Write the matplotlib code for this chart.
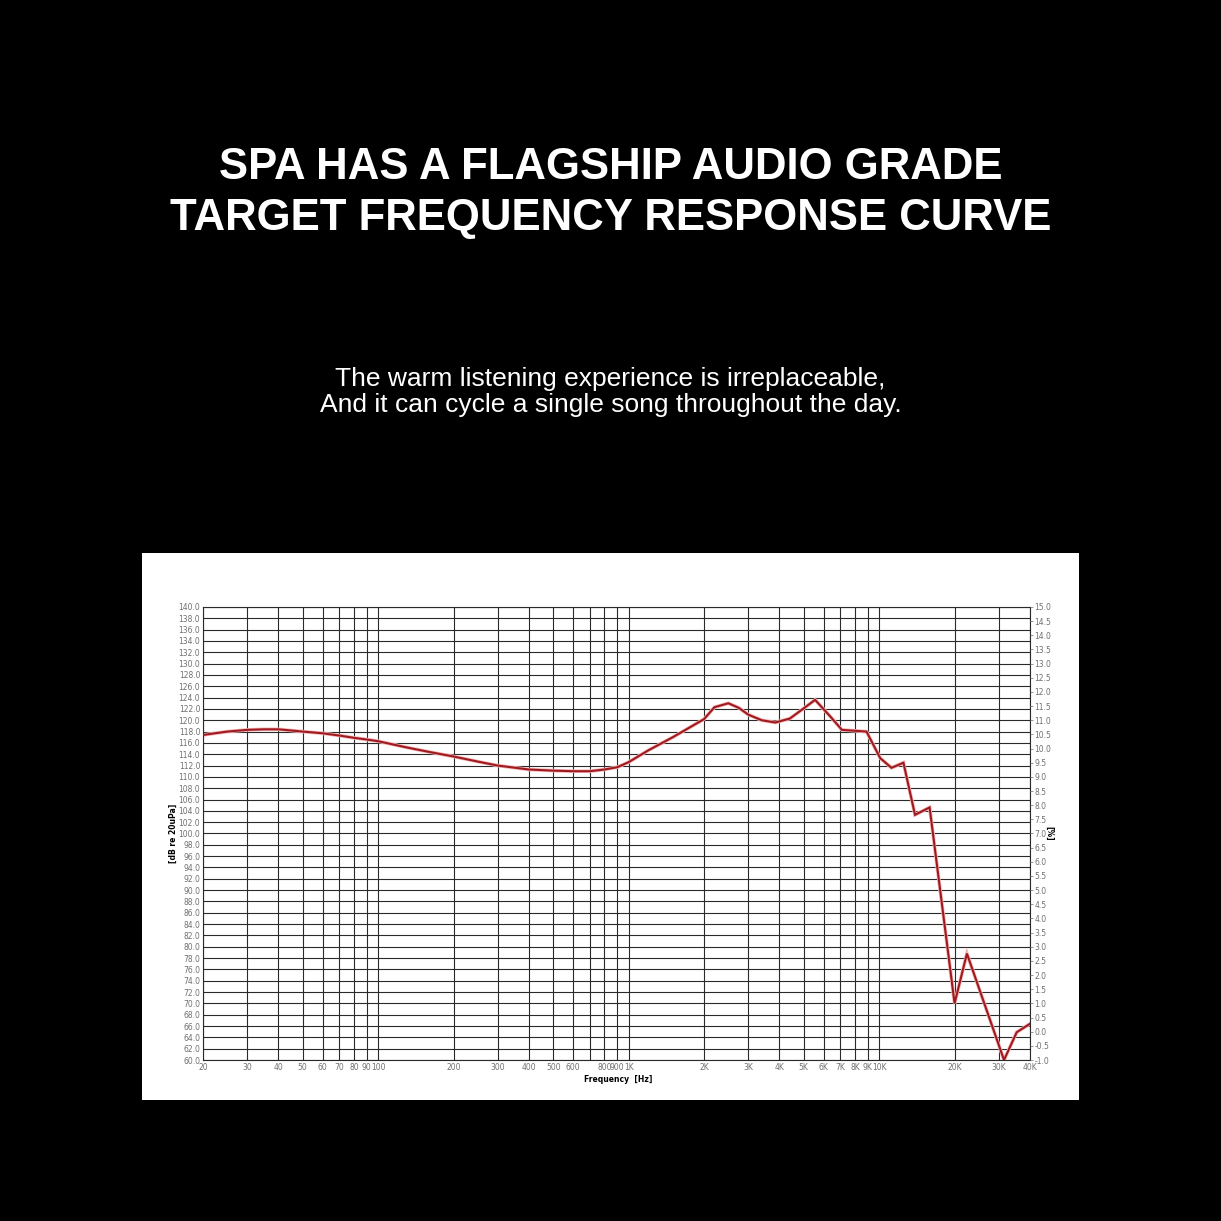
import numpy as np
import matplotlib
matplotlib.use("Agg")
import matplotlib.pyplot as plt
from matplotlib.ticker import FixedLocator, FixedFormatter, NullLocator

# --- data ---
FREQ_HZ = [20, 25, 30, 35, 40, 50, 60, 70, 80, 90, 100, 130, 160, 200, 250,
           300, 400, 500, 600, 700, 800, 900, 1000, 1200, 1500, 2000, 2200,
           2500, 2750, 3000, 3400, 3850, 4400, 5000, 5550, 6400, 7100, 8900,
           10100, 11200, 12500, 13900, 15900, 20000, 22400, 31500, 35400, 40000]
SPL_DB = [117.4, 118.0, 118.3, 118.4, 118.4, 118.0, 117.7, 117.3, 116.9, 116.6,
          116.3, 115.2, 114.4, 113.6, 112.7, 112.0, 111.3, 111.1, 111.0, 111.0,
          111.3, 111.7, 112.6, 114.7, 117.0, 120.2, 122.3, 123.0, 122.2, 121.0,
          120.0, 119.6, 120.3, 122.1, 123.6, 120.6, 118.3, 118.0, 113.3, 111.6,
          112.5, 103.3, 104.6, 70.0, 78.8, 60.0, 64.9, 66.4]

X_GRID = [20, 30, 40, 50, 60, 70, 80, 90, 100, 200, 300, 400, 500, 600, 700,
          800, 900, 1000, 2000, 3000, 4000, 5000, 6000, 7000, 8000, 9000,
          10000, 20000, 30000, 40000]
X_LABELS = ["20", "30", "40", "50", "60", "70", "80", "90", "100", "200", "300",
            "400", "500", "600", "", "800", "900", "1K", "2K", "3K", "4K", "5K",
            "6K", "7K", "8K", "9K", "10K", "20K", "30K", "40K"]

TITLE = "SPA HAS A FLAGSHIP AUDIO GRADE\nTARGET FREQUENCY RESPONSE CURVE"
SUBTITLE = ("The warm listening experience is irreplaceable,\n"
            "And it can cycle a single song throughout the day.")

W = 1221


def fx(px):
    return px / W


def fy(py):
    return 1 - py / W


def main():
    fig = plt.figure(figsize=(12.21, 12.21), dpi=100, facecolor="black")

    # white chart panel behind the plot
    panel = fig.add_axes([fx(142), fy(1100), fx(1079) - fx(142), fy(553) - fy(1100)])
    panel.set_facecolor("white")
    panel.set_xticks([])
    panel.set_yticks([])
    for s in panel.spines.values():
        s.set_visible(False)

    fig.text(0.5, fy(193), TITLE, ha="center", va="center", color="white",
             fontsize=31.5, fontweight="bold", family="Liberation Sans",
             linespacing=1.3)
    fig.text(0.5, fy(392), SUBTITLE, ha="center", va="center", color="white",
             fontsize=19, family="Liberation Sans", linespacing=1.15)

    ax = fig.add_axes([fx(203), fy(1060), fx(1030) - fx(203), fy(607) - fy(1060)])
    ax.set_facecolor("white")
    ax.set_xscale("log")
    ax.set_xlim(20, 40000)
    ax.set_ylim(60, 140)

    grid_c = "#2a2a2a"
    for xv in X_GRID:
        ax.axvline(xv, color=grid_c, lw=0.8, zorder=1)
    for yv in np.arange(60, 141, 2):
        ax.axhline(yv, color=grid_c, lw=0.8, zorder=1)

    ax.plot(FREQ_HZ, SPL_DB, color="#f6b4b4", lw=2.6, zorder=2,
            solid_joinstyle="miter")
    ax.plot(FREQ_HZ, SPL_DB, color="#9e1a20", lw=1.5, zorder=3,
            solid_joinstyle="miter")

    for s in ax.spines.values():
        s.set_color(grid_c)
        s.set_linewidth(0.8)

    ax.xaxis.set_major_locator(FixedLocator(X_GRID))
    ax.xaxis.set_major_formatter(FixedFormatter(X_LABELS))
    ax.xaxis.set_minor_locator(NullLocator())
    yt = np.arange(60, 141, 2)
    ax.set_yticks(yt)
    ax.set_yticklabels([f"{v:.1f}" for v in yt])
    ax.tick_params(axis="both", labelsize=5.5, labelcolor="#707070",
                   length=0, pad=2)

    ax2 = ax.twinx()
    ax2.set_ylim(-1.0, 15.0)
    rt = np.arange(-1.0, 15.01, 0.5)
    ax2.set_yticks(rt)
    ax2.set_yticklabels([f"{v:.1f}" for v in rt])
    ax2.tick_params(axis="y", labelsize=5.5, labelcolor="#707070",
                    length=2, width=0.5, color="#707070", pad=1)
    for s in ax2.spines.values():
        s.set_visible(False)

    ax.set_xlabel("Frequency  [Hz]", fontsize=5.5, fontweight="bold")
    ax.xaxis.set_label_coords((618 - 203) / 827, -0.033)
    ax.set_ylabel("[dB re 20uPa]", fontsize=5.5, fontweight="bold")
    ax.yaxis.set_label_coords(-0.03, 0.5)
    ax2.set_ylabel("[%]", fontsize=5.5, fontweight="bold", rotation=-90)
    ax2.yaxis.set_label_coords(1.028, 0.5)

    fig.savefig("out.png", dpi=100, facecolor="black")


if __name__ == "__main__":
    main()
